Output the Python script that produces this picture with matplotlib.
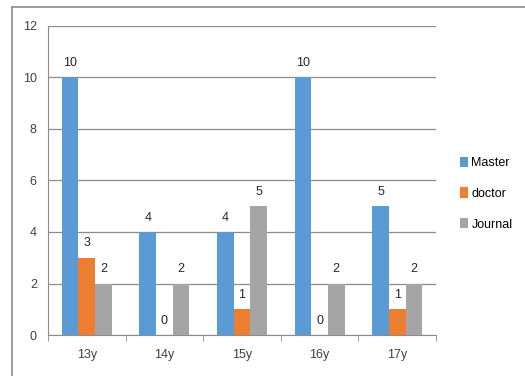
import numpy as np
import matplotlib.pyplot as plt
from matplotlib.lines import Line2D
from matplotlib.patches import Patch

categories = ["13y", "14y", "15y", "16y", "17y"]
master = [10, 4, 4, 10, 5]
doctor = [3, 0, 1, 0, 1]
journal = [2, 2, 5, 2, 2]

series = [("Master", master, "#5B9BD5"),
          ("doctor", doctor, "#ED7D31"),
          ("Journal", journal, "#A5A5A5")]

plt.rcParams['font.family'] = ['Liberation Sans', 'DejaVu Sans']

fig = plt.figure(figsize=(5.25, 3.76), dpi=100)
ax = fig.add_axes([0.0914, 0.109, 0.739, 0.822])

x = np.arange(len(categories))
width = 0.215
for i, (name, vals, color) in enumerate(series):
    pos = x + (i - 1) * width
    bars = ax.bar(pos, vals, width, color=color, label=name, zorder=3)
    for b, v in zip(bars, vals):
        ax.annotate(str(v), (b.get_x() + b.get_width() / 2, v),
                    xytext=(0, 6), textcoords="offset points",
                    ha="center", va="bottom", fontsize=9, color="#262626")

ax.set_xlim(-0.5, len(categories) - 0.5)
ax.set_ylim(0, 12)
ax.set_yticks(range(0, 13, 2))
ax.set_xticks(x)
ax.set_xticklabels(categories)
ax.set_xticks(np.arange(-0.5, len(categories)), minor=True)
ax.tick_params(axis="x", which="major", length=0, pad=10, labelsize=9, colors="#404040")
ax.tick_params(axis="x", which="minor", length=4, color="#8c8c8c")
ax.tick_params(axis="y", length=0, pad=8, labelsize=9, colors="#404040")
ax.grid(axis="y", color="#8c8c8c", linewidth=0.9, zorder=0)

for s in ["top", "right"]:
    ax.spines[s].set_visible(False)
ax.spines["left"].set_color("#8c8c8c")
ax.spines["bottom"].set_color("#8c8c8c")

handles = [Patch(facecolor=c, label=n) for n, _, c in series]
fig.legend(handles=handles, loc="center left", bbox_to_anchor=(0.855, 0.485),
           frameon=False, fontsize=9, handlelength=0.6, handleheight=0.9,
           handletextpad=0.3, labelspacing=1.45)

# outer chart frame
fig.add_artist(Line2D([0.023, 1.0], [0.981, 0.981], color="#8c8c8c", lw=1.2))
fig.add_artist(Line2D([0.023, 0.023], [0.0, 0.981], color="#8c8c8c", lw=1.2))

fig.savefig("out.png", dpi=100)
